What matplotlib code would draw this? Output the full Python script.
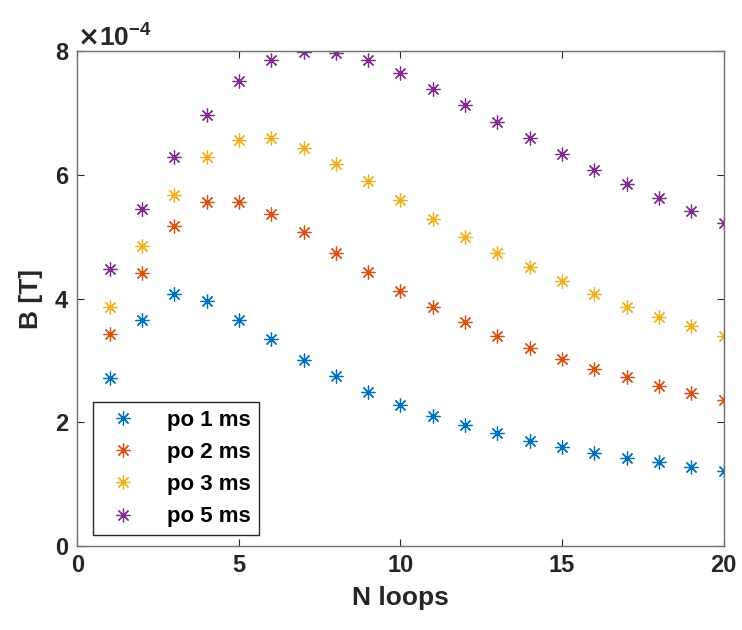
import numpy as np
import matplotlib.pyplot as plt
from matplotlib.ticker import ScalarFormatter

plt.rcParams['font.family'] = ['Liberation Sans', 'DejaVu Sans']
plt.rcParams['font.weight'] = 'bold'
plt.rcParams['mathtext.default'] = 'bf'

# number of loops
n_loops = np.arange(1, 21)

# B field in units of 1e-4 T
b_1ms = [2.72, 3.66, 4.08, 3.96, 3.66, 3.34, 3.00, 2.75, 2.49, 2.28,
         2.10, 1.95, 1.82, 1.70, 1.60, 1.51, 1.43, 1.36, 1.28, 1.22]
b_2ms = [3.42, 4.41, 5.18, 5.56, 5.56, 5.36, 5.07, 4.74, 4.43, 4.12,
         3.86, 3.62, 3.39, 3.20, 3.03, 2.86, 2.73, 2.59, 2.47, 2.36]
b_3ms = [3.86, 4.85, 5.68, 6.28, 6.56, 6.59, 6.43, 6.18, 5.90, 5.59,
         5.29, 5.00, 4.73, 4.51, 4.28, 4.07, 3.87, 3.70, 3.55, 3.39]
b_5ms = [4.47, 5.44, 6.28, 6.96, 7.51, 7.85, 7.98, 7.97, 7.85, 7.64,
         7.38, 7.12, 6.85, 6.60, 6.33, 6.08, 5.85, 5.62, 5.41, 5.22]

labels = ['po 1 ms', 'po 2 ms', 'po 3 ms', 'po 5 ms']
colors = ['#0072BD', '#D95319', '#EDB120', '#7E2F8E']
series = [b_1ms, b_2ms, b_3ms, b_5ms]

fig = plt.figure(figsize=(7.42, 6.30), dpi=100)
ax = fig.add_axes([0.1042, 0.1333, 0.8711, 0.7857])

for vals, lab, col in zip(series, labels, colors):
    ax.plot(n_loops, np.array(vals) * 1e-4, linestyle='none', marker=(8, 2, 0),
            markersize=10, markeredgewidth=0.9, color=col, label=lab)

ax.set_xlim(0, 20)
ax.set_ylim(0, 8e-4)
ax.set_xticks([0, 5, 10, 15, 20])
ax.set_yticks([0, 2e-4, 4e-4, 6e-4, 8e-4])

fmt = ScalarFormatter(useMathText=True)
fmt.set_powerlimits((0, 0))
ax.yaxis.set_major_formatter(fmt)
off = ax.yaxis.get_offset_text()
off.set_fontsize(19)
off.set_color('#262626')

edge = '#6e6e6e'
for s in ax.spines.values():
    s.set_color(edge)
    s.set_linewidth(1.0)
ax.tick_params(direction='in', length=5, width=0.8, color='#262626',
               labelsize=17, labelcolor='#262626', top=True, right=True, pad=6)
for t in ax.get_xticklabels() + ax.get_yticklabels():
    t.set_fontweight('bold')

ax.set_xlabel('N loops', fontsize=19, fontweight='bold', color='#262626', labelpad=6)
ax.set_ylabel('B [T]', fontsize=19, fontweight='bold', color='#262626', labelpad=8)

leg = ax.legend(loc='lower left', bbox_to_anchor=(0.024, 0.022), borderaxespad=0,
                fancybox=False, framealpha=1, edgecolor='#262626',
                prop={'size': 16, 'weight': 'bold'}, labelspacing=0.5,
                handletextpad=1.0, borderpad=0.35, handlelength=2.0)
leg.get_frame().set_linewidth(1.0)

fig.savefig('out.png', dpi=100)
